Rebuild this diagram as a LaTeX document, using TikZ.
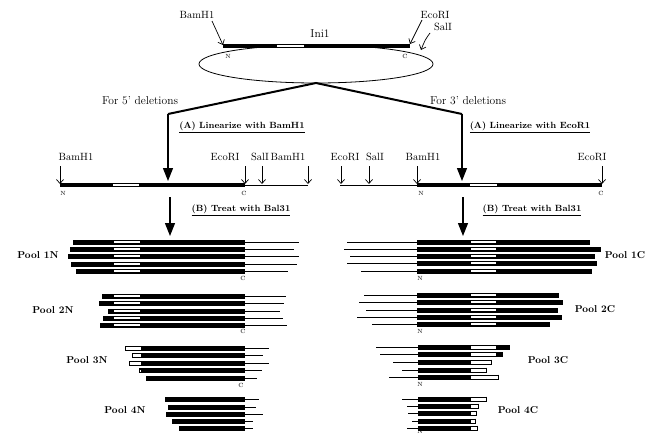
\documentclass[tikz,border=0pt]{standalone}
\usetikzlibrary{arrows.meta}
\begin{document}
\begin{tikzpicture}[x=1pt,y=-1pt,
  lbl/.style={font=\fontsize{10.5}{12}\selectfont, inner sep=0pt},
  dirl/.style={font=\fontsize{11.5}{13}\selectfont, inner sep=0pt},
  stepl/.style={font=\bfseries\fontsize{9}{11}\selectfont, inner sep=0pt},
  pool/.style={font=\bfseries\fontsize{10}{12}\selectfont, inner sep=0pt},
  tinyl/.style={font=\fontsize{6}{7}\selectfont, inner sep=0pt},
  site/.style={line width=0.7pt, -{Straight Barb[length=4pt,width=7pt]}},
  big/.style={line width=1.2pt, -{Triangle[length=13pt,width=10pt]}},
  branch/.style={line width=2pt, line join=miter},
  thinl/.style={line width=0.8pt},
  openbox/.style={draw=black, fill=white, line width=0.8pt},
]
\useasboundingbox (0,0) rectangle (653,434);

% ---------- top: plasmid Ini1 ----------
\draw[thinl] (316,64) ellipse [x radius=117, y radius=19];
\fill (223,44) rectangle (410,48);
\fill[white] (277,45) rectangle (304,47);
\node[dirl] (ini) at (320,34) {Ini1};
\node[tinyl] (tN) at (228,56.5) {N};
\node[tinyl] (tC) at (405,56.5) {C};
\node[lbl] (tBam) at (197,15) {BamH1};
\node[lbl] (tEco) at (435,15) {EcoRI};
\node[lbl] (tSal) at (443,27) {SalI};
\coordinate (tBamS) at (212,21); \coordinate (tBamE) at (223,45);
\coordinate (tEcoS) at (422,20); \coordinate (tEcoE) at (410,44);
\coordinate (tSalS) at (430,33); \coordinate (tSalE) at (421,50);
\draw[site] (tBamS) -- (tBamE);
\draw[site] (tEcoS) -- (tEcoE);
\draw[site] (tSalS) .. controls (425,40) .. (tSalE);

% ---------- branches ----------
\coordinate (fork) at (316,83);
\coordinate (cornL) at (168,114);
\coordinate (cornR) at (462,114);
\coordinate (tipL) at (168,181);
\coordinate (tipR) at (462,181);
\draw[branch] (cornL) -- (fork) -- (cornR);
\draw[big] (cornL) -- (tipL);
\draw[big] (cornR) -- (tipR);
\node[dirl] (for5) at (140,101) {For 5' deletions};
\node[dirl] (for3) at (468,101) {For 3' deletions};
\node[stepl] (linL) at (242,127) {\underline{(A) Linearize with BamH1}};
\node[stepl] (linR) at (530,127) {\underline{(A) Linearize with EcoR1}};

% ---------- linearized, left ----------
\fill (60,183) rectangle (245,187);
\fill[white] (113,184) rectangle (139,186);
\draw[thinl] (245,185) -- (308,185);
\node[tinyl] (mN1) at (63,193) {N};
\node[tinyl] (mC1) at (244,193) {C};
\node[lbl] (mBam1) at (76,157) {BamH1};
\node[lbl] (mEco1) at (225,157) {EcoRI};
\node[lbl] (mSal1) at (260,157) {SalI};
\node[lbl] (mBam2) at (288,157) {BamH1};
\foreach \x in {60,245,262,308} {
  \draw[site] (\x,166) -- (\x,184);
}

% ---------- linearized, right ----------
\draw[thinl] (340,185) -- (417,185);
\fill (417,183) rectangle (602,187);
\fill[white] (470,184) rectangle (497,186);
\node[tinyl] (mN2) at (421,193) {N};
\node[tinyl] (mC2) at (601,193) {C};
\node[lbl] (mEco2) at (345,157) {EcoRI};
\node[lbl] (mSal2) at (375,157) {SalI};
\node[lbl] (mBam3) at (423,157) {BamH1};
\node[lbl] (mEco3) at (592,157) {EcoRI};
\foreach \x in {341,369,417,602} {
  \draw[site] (\x,166) -- (\x,184);
}

% ---------- Bal31 arrows ----------
\coordinate (balLs) at (170,197); \coordinate (balLe) at (170,236);
\coordinate (balRs) at (463,197); \coordinate (balRe) at (463,236);
\draw[big] (balLs) -- (balLe);
\draw[big] (balRs) -- (balRe);
\node[stepl] (balL) at (241,210) {\underline{(B) Treat with Bal31}};
\node[stepl] (balR) at (532,210) {\underline{(B) Treat with Bal31}};

% ---------- N pools ----------
\foreach \y/\l/\t in {242/73/299, 249/70/294, 256/68/299, 264/71/297, 271/76/288,
                      296/102/286, 303/99/284, 311/108/280, 318/103/283, 325/100/287} {
  \draw[thinl] (245,\y) -- (\t,\y);
  \fill (\l,\y-2.5) rectangle (245,\y+2.5);
  \fill[white] (114,\y-1.3) rectangle (140,\y+1.3);
}
\foreach \y/\l/\t in {348/125/269, 355.5/132/263, 363/129/269, 370.5/139/262, 378/146/257,
                      399/165/259, 407/168/256, 414/166/263, 421/172/253, 428/179/253} {
  \draw[thinl] (245,\y) -- (\t,\y);
  \fill (\l,\y-2.5) rectangle (245,\y+2.5);
}
\foreach \y/\l in {348/125, 355.5/132, 363/129} {
  \draw[openbox] (\l+0.4,\y-2.1) rectangle (141,\y+2.1);
}
\fill[white] (139.5,369.5) rectangle (141,371.5);
\node[pool] (p1N) at (38,255) {Pool 1N};
\node[pool] (p2N) at (53,310) {Pool 2N};
\node[pool] (p3N) at (87,360) {Pool 3N};
\node[pool] (p4N) at (125,410) {Pool 4N};
\node[tinyl] (c1N) at (243,278) {C};
\node[tinyl] (c2N) at (243,331) {C};
\node[tinyl] (c3N) at (241,385) {C};

% ---------- C pools ----------
\foreach \y/\r/\t in {242/590/347, 249/601/344, 256/595/350, 263/597/347, 271/592/361,
                      295/559/364, 302/563/359, 310/558/366, 317/562/357, 324/550/372} {
  \draw[thinl] (\t,\y) -- (417,\y);
  \fill (417,\y-2.5) rectangle (\r,\y+2.5);
  \fill[white] (471,\y-1.3) rectangle (496,\y+1.3);
}
\foreach \y/\w/\b/\t in {347/496/510/376, 354/496/503/380, 362/491/491/393, 370/486/486/402, 377/498/498/389,
                         399/486/486/402, 406/478/478/407, 413/476/476/408, 421/475/475/412, 428/477/477/407} {
  \draw[thinl] (\t,\y) -- (418,\y);
  \fill (418,\y-2.5) rectangle (470,\y+2.5);
  \draw[openbox] (470,\y-2.1) rectangle (\w,\y+2.1);
  \fill (\w,\y-2.5) rectangle (\b,\y+2.5);
}
\node[pool] (p1C) at (625,255) {Pool 1C};
\node[pool] (p2C) at (595,309) {Pool 2C};
\node[pool] (p3C) at (548,360) {Pool 3C};
\node[pool] (p4C) at (518,410) {Pool 4C};
\node[tinyl] (n1C) at (420,278) {N};
\node[tinyl] (n2C) at (420,331) {N};
\node[tinyl] (n3C) at (420,384) {N};
\node[tinyl] (n4C) at (420,431.5) {N};
\end{tikzpicture}
\end{document}
